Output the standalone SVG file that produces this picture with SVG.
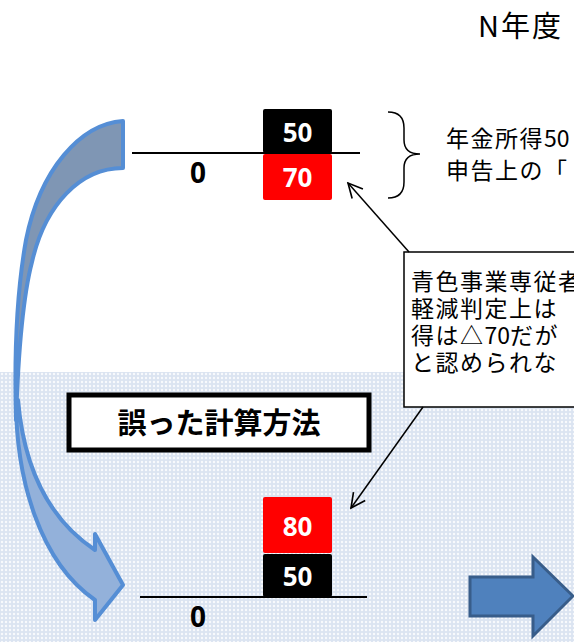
<svg xmlns="http://www.w3.org/2000/svg" width="574" height="642" viewBox="0 0 574 642">
<defs>
<pattern id="dots" width="4" height="4" patternUnits="userSpaceOnUse">
<rect width="4" height="4" fill="#dbe4f1"/>
<circle cx="2" cy="2" r="1.2" fill="#ffffff" fill-opacity="0.8"/>
</pattern>
<marker id="open" viewBox="0 0 20 20" refX="18" refY="10" markerWidth="18" markerHeight="18" markerUnits="userSpaceOnUse" orient="auto">
<path d="M2,2 L18,10 L2,18" fill="none" stroke="#000" stroke-width="1.8"/>
</marker>
<style>
.jp{font-family:"Noto Sans CJK JP","Noto Sans",sans-serif;fill:#000}
.side{font-size:23px;letter-spacing:1.5px}
.call{font-size:23px;letter-spacing:1.5px}
.tight{letter-spacing:0}
.num{font-family:"Noto Sans","Liberation Sans",sans-serif;font-weight:bold;font-size:26px;fill:#fff;text-anchor:middle}
.zero{font-family:"Noto Sans","Liberation Sans",sans-serif;font-weight:bold;font-size:28px;fill:#000;text-anchor:middle}
.axis{stroke:#000;stroke-width:2}
</style>
</defs>
<rect x="0" y="0" width="574" height="642" fill="#fff"/>
<rect id="bg" x="0" y="372" width="574" height="270" fill="url(#dots)"/>

<g id="title"><text class="jp" x="478" y="37" font-size="29" letter-spacing="2">N年度</text></g>

<g id="top-chart">
<line class="axis" x1="132" y1="153" x2="360" y2="153"/>
<rect x="263" y="109" width="69" height="44" rx="2" fill="#000"/>
<text class="num" x="297.5" y="142">50</text>
<rect x="263" y="154" width="69" height="46" rx="2" fill="#ff0000"/>
<text class="num" x="297.5" y="187">70</text>
<text class="zero" x="198" y="183">0</text>
</g>

<g id="brace">
<path d="M388,112 Q404,112 404,128 L404,140 Q404,154 420,154 Q404,154 404,168 L404,182 Q404,198 388,198" fill="none" stroke="#000" stroke-width="1.5"/>
<text class="jp side" x="446" y="147">年金所得<tspan class="tight">50</tspan></text>
<text class="jp side" x="446" y="179">申告上の「</text>
</g>

<g id="callout">
<rect x="404" y="252" width="180" height="155" fill="#fff" stroke="#000" stroke-width="1.5"/>
<text class="jp call" x="411" y="290">青色事業専従者</text>
<text class="jp call" x="411" y="317">軽減判定上は</text>
<text class="jp call" x="411" y="344">得は△<tspan class="tight">70</tspan>だが</text>
<text class="jp call" x="411" y="371">と認められな</text>
</g>

<g id="label">
<rect x="69" y="395" width="300" height="55" fill="#fff" stroke="#000" stroke-width="5"/>
<text class="jp" x="219" y="434" font-size="29" font-weight="bold" text-anchor="middle">誤った計算方法</text>
</g>

<g id="bottom-chart">
<rect x="263" y="497" width="69" height="56" rx="2" fill="#ff0000"/>
<text class="num" x="297.5" y="536">80</text>
<rect x="263" y="554" width="69" height="43" rx="2" fill="#000"/>
<text class="num" x="297.5" y="586">50</text>
<line class="axis" x1="140" y1="597" x2="367" y2="597"/>
<text class="zero" x="198" y="627">0</text>
</g>

<g id="curved-arrow">
<path d="M123,121 C80,124 40,170 26,240 C17,290 14,350 16,420 C18,360 22,300 32,262 C45,205 80,168 123,168 Z" fill="#7f96b4" stroke="#558ed5" stroke-width="4" stroke-linejoin="round"/>
<path d="M16,400 C16,480 40,562 95,600 L95,620 L123,585 L95,534 L95,550 C50,520 24,470 18,400 Z" fill="#93b1da" stroke="#558ed5" stroke-width="4" stroke-linejoin="round"/>
</g>

<g id="right-arrow">
<path d="M470,577 L533,577 L533,557 L573,596 L533,636 L533,616 L470,616 Z" fill="#4f81bd" stroke="#385d8a" stroke-width="3"/>
</g>

<g id="connectors">
<line x1="409" y1="252" x2="348" y2="183" stroke="#000" stroke-width="1.5" marker-end="url(#open)"/>
<line x1="423" y1="407" x2="351" y2="508" stroke="#000" stroke-width="1.5" marker-end="url(#open)"/>
</g>
</svg>
